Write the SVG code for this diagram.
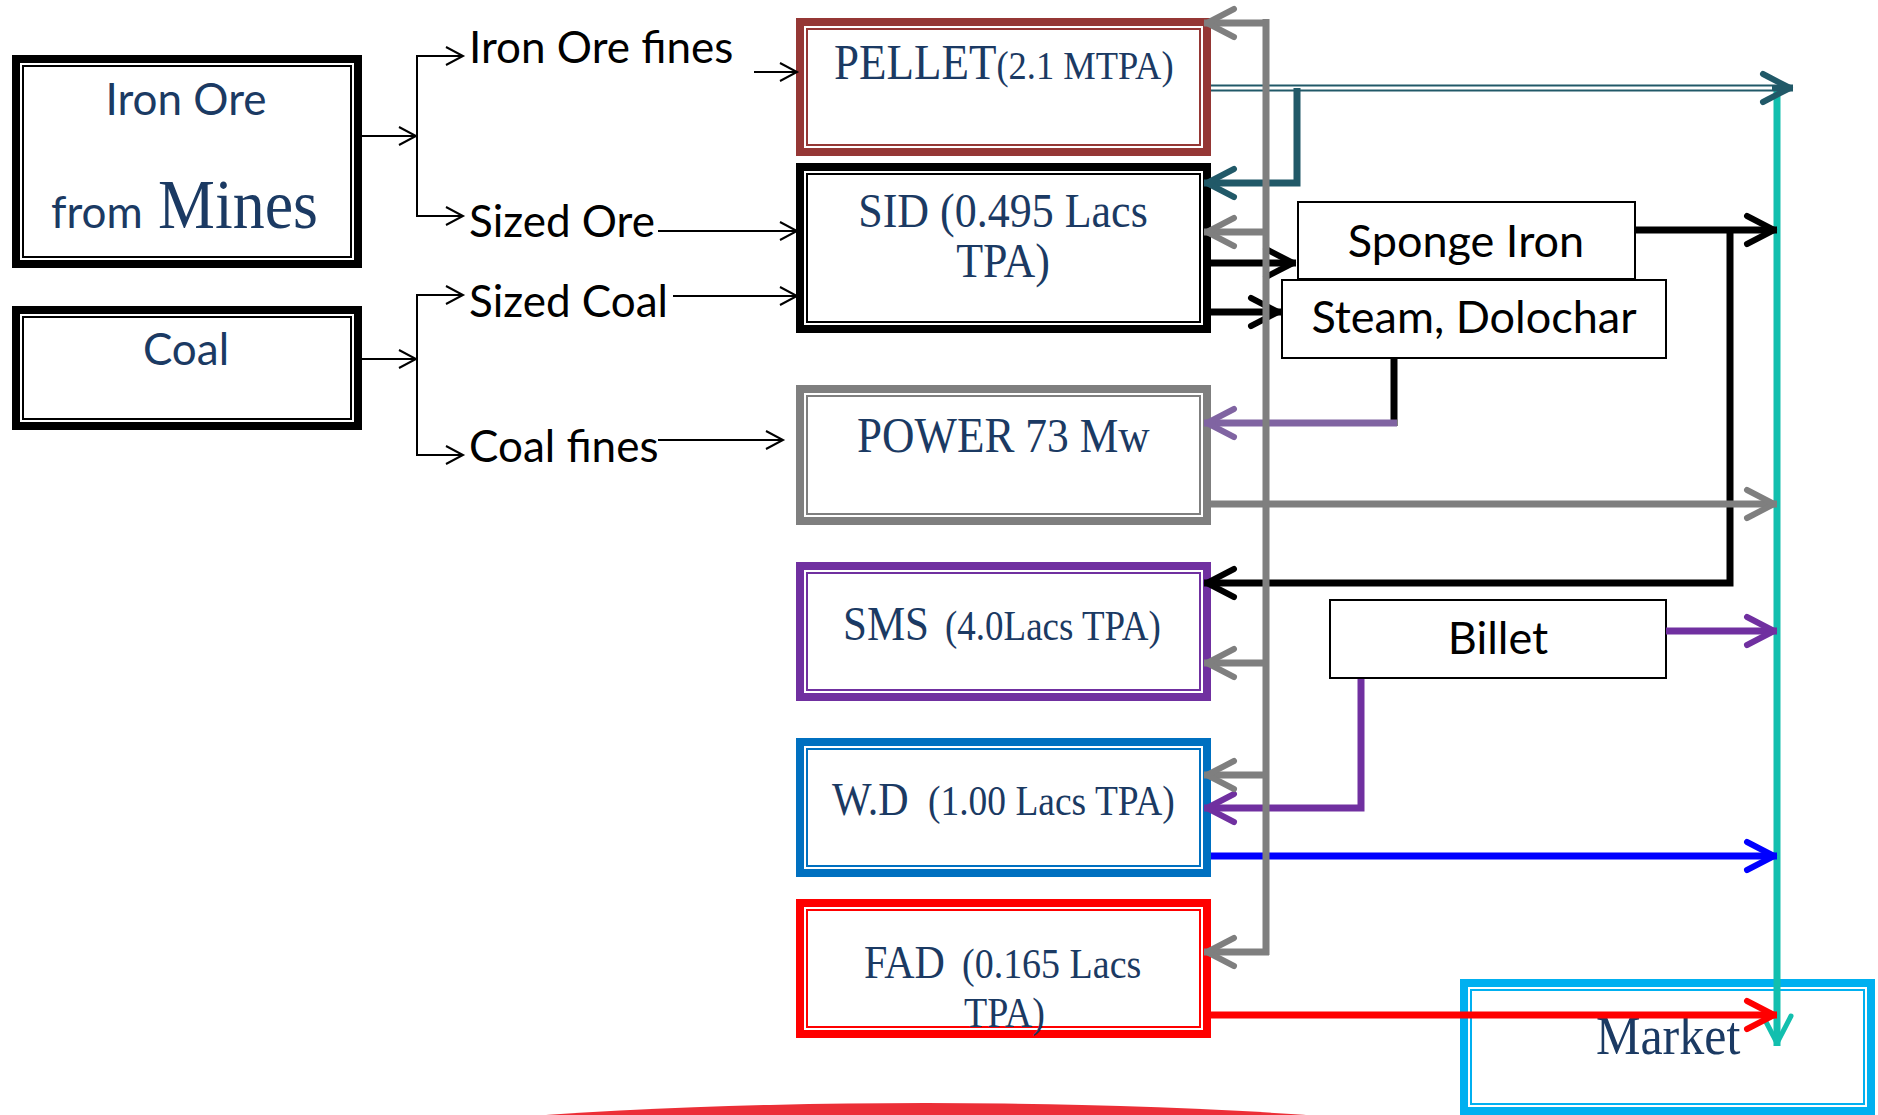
<svg xmlns="http://www.w3.org/2000/svg" width="1878" height="1115" viewBox="0 0 1878 1115">
<style>
.bg{fill:#fff}
.thick{fill:#fff;stroke-width:8}
.thin{fill:none;stroke-width:2}
.sbox{fill:#fff;stroke:#000;stroke-width:2}
.lbl{font-family:Lato,"Liberation Sans",sans-serif;font-size:44px;fill:#000}
.nv{font-family:Lato,"Liberation Sans",sans-serif;font-size:44px;fill:#1B3A63}
.sf{font-family:"Liberation Serif","DejaVu Serif",serif;fill:#1B3A63}
.blk{font-family:Lato,"Liberation Sans",sans-serif;font-size:45px;fill:#000}
.tl{stroke:#000;stroke-width:2;fill:none}
.w6{stroke-width:7;fill:none}
</style>
<defs>
<marker id="mThin" markerUnits="userSpaceOnUse" orient="auto" overflow="visible" markerWidth="1" markerHeight="1" refX="0" refY="0"><path d="M-17,-9 L0,0 L-17,9" fill="none" stroke="#000" stroke-width="2"/></marker>
<marker id="mGray" markerUnits="userSpaceOnUse" orient="auto" overflow="visible" markerWidth="1" markerHeight="1"><path d="M-30,-14 L-3,0 L-30,14" fill="none" stroke="#7F7F7F" stroke-width="6" stroke-linecap="round" stroke-linejoin="round"/></marker>
<marker id="mTeal" markerUnits="userSpaceOnUse" orient="auto" overflow="visible" markerWidth="1" markerHeight="1"><path d="M-30,-14 L-3,0 L-30,14" fill="none" stroke="#215968" stroke-width="6" stroke-linecap="round" stroke-linejoin="round"/></marker>
<marker id="mBlack" markerUnits="userSpaceOnUse" orient="auto" overflow="visible" markerWidth="1" markerHeight="1"><path d="M-30,-14 L-3,0 L-30,14" fill="none" stroke="#000" stroke-width="6" stroke-linecap="round" stroke-linejoin="round"/></marker>
<marker id="mLav" markerUnits="userSpaceOnUse" orient="auto" overflow="visible" markerWidth="1" markerHeight="1"><path d="M-30,-14 L-3,0 L-30,14" fill="none" stroke="#8064A2" stroke-width="6" stroke-linecap="round" stroke-linejoin="round"/></marker>
<marker id="mPur" markerUnits="userSpaceOnUse" orient="auto" overflow="visible" markerWidth="1" markerHeight="1"><path d="M-30,-14 L-3,0 L-30,14" fill="none" stroke="#7030A0" stroke-width="6" stroke-linecap="round" stroke-linejoin="round"/></marker>
<marker id="mBlue" markerUnits="userSpaceOnUse" orient="auto" overflow="visible" markerWidth="1" markerHeight="1"><path d="M-30,-14 L-3,0 L-30,14" fill="none" stroke="#0000FF" stroke-width="6" stroke-linecap="round" stroke-linejoin="round"/></marker>
<marker id="mRed" markerUnits="userSpaceOnUse" orient="auto" overflow="visible" markerWidth="1" markerHeight="1"><path d="M-30,-14 L-3,0 L-30,14" fill="none" stroke="#FF0000" stroke-width="6" stroke-linecap="round" stroke-linejoin="round"/></marker>
<marker id="mTurq" markerUnits="userSpaceOnUse" orient="auto" overflow="visible" markerWidth="1" markerHeight="1"><path d="M-30,-14 L-3,0 L-30,14" fill="none" stroke="#12BFAE" stroke-width="5" stroke-linecap="round" stroke-linejoin="round"/></marker>
</defs>
<rect class="bg" x="0" y="0" width="1878" height="1115"/>
<ellipse id="swoosh" cx="926" cy="1203" rx="800" ry="100" fill="#EC2F37"/>

<g id="iron-ore">
<rect class="thick" x="16" y="59" width="342" height="205" stroke="#000"/>
<rect class="thin" x="23" y="66" width="328" height="191" stroke="#000"/>
<text class="nv" x="186" y="115" text-anchor="middle">Iron Ore</text>
<text class="nv" x="51" y="228">from</text>
<text class="sf" x="158" y="228" font-size="64" transform="matrix(1,0,0,1.1,0,-22.8)">Mines</text>
</g>
<g id="coal">
<rect class="thick" x="16" y="310" width="342" height="116" stroke="#000"/>
<rect class="thin" x="23" y="317" width="328" height="102" stroke="#000"/>
<text class="nv" x="186" y="365" text-anchor="middle">Coal</text>
</g>

<g id="labels">
<text class="lbl" x="469" y="63">Iron Ore fines</text>
<text class="lbl" x="469" y="237">Sized Ore</text>
<text class="lbl" x="469" y="317">Sized Coal</text>
<text class="lbl" x="469" y="462">Coal fines</text>
</g>

<g id="pellet">
<rect class="thick" x="800" y="22" width="407" height="130" stroke="#953735"/>
<rect class="thin" x="807" y="29" width="393" height="116" stroke="#953735"/>
<text class="sf" x="834" y="79" font-size="45" transform="matrix(1,0,0,1.12,0,-9.48)">PELLET<tspan font-size="36.5">(2.1 MTPA)</tspan></text>
</g>
<g id="sid">
<rect class="thick" x="800" y="167" width="407" height="162" stroke="#000"/>
<rect class="thin" x="807" y="174" width="393" height="148" stroke="#000"/>
<text class="sf" x="1003" y="227" font-size="44" text-anchor="middle" transform="matrix(1,0,0,1.12,0,-27.24)">SID (0.495 Lacs</text>
<text class="sf" x="1003" y="277" font-size="44" text-anchor="middle" transform="matrix(1,0,0,1.12,0,-33.24)">TPA)</text>
</g>
<g id="power">
<rect class="thick" x="800" y="389" width="407" height="132" stroke="#7F7F7F"/>
<rect class="thin" x="807" y="396" width="393" height="118" stroke="#7F7F7F"/>
<text class="sf" x="857" y="452" font-size="45" transform="matrix(1,0,0,1.12,0,-54.24)">POWER<tspan font-size="43.5"> 73 Mw</tspan></text>
</g>
<g id="sms">
<rect class="thick" x="800" y="566" width="407" height="131" stroke="#7030A0"/>
<rect class="thin" x="807" y="573" width="393" height="117" stroke="#7030A0"/>
<text class="sf" x="843" y="640" font-size="43" transform="matrix(1,0,0,1.12,0,-76.8)">SMS</text>
<text class="sf" x="945" y="640" font-size="37" transform="matrix(1,0,0,1.12,0,-76.8)">(4.0Lacs TPA)</text>
</g>
<g id="wd">
<rect class="thick" x="800" y="742" width="407" height="131" stroke="#0070C0"/>
<rect class="thin" x="807" y="749" width="393" height="117" stroke="#0070C0"/>
<text class="sf" x="832" y="815" font-size="42" transform="matrix(1,0,0,1.12,0,-97.8)">W.D</text>
<text class="sf" x="928" y="815" font-size="37.5" transform="matrix(1,0,0,1.12,0,-97.8)">(1.00 Lacs TPA)</text>
</g>
<g id="fad">
<rect class="thick" x="800" y="903" width="407" height="131" stroke="#FF0000"/>
<rect class="thin" x="807" y="910" width="393" height="117" stroke="#FF0000"/>
<text class="sf" x="864" y="978" font-size="42" transform="matrix(1,0,0,1.12,0,-117.36)">FAD</text>
<text class="sf" x="962" y="978" font-size="38" transform="matrix(1,0,0,1.12,0,-117.36)">(0.165 Lacs</text>
<text class="sf" x="964" y="1027" font-size="38" transform="matrix(1,0,0,1.12,0,-123.24)">TPA)</text>
</g>
<g id="market">
<rect class="thick" x="1464" y="983" width="407" height="128" stroke="#00B0F0"/>
<rect class="thin" x="1471" y="990" width="393" height="114" stroke="#00B0F0"/>
<text class="sf" x="1596" y="1054" font-size="50" transform="matrix(1,0,0,1.1,0,-105.4)">Market</text>
</g>
<g id="sponge-iron">
<rect class="sbox" x="1298" y="202" width="337" height="77"/>
<text class="blk" x="1466" y="257" text-anchor="middle">Sponge Iron</text>
</g>
<g id="steam-dolochar">
<rect class="sbox" x="1282" y="280" width="384" height="78"/>
<text class="blk" x="1474" y="333" text-anchor="middle">Steam, Dolochar</text>
</g>
<g id="billet">
<rect class="sbox" x="1330" y="600" width="336" height="78"/>
<text class="blk" x="1498" y="654" text-anchor="middle">Billet</text>
</g>

<g id="connectors">
<path class="tl" d="M362,136 H416" marker-end="url(#mThin)"/>
<path class="tl" d="M417,55 V217"/>
<path class="tl" d="M416,56 H463" marker-end="url(#mThin)"/>
<path class="tl" d="M416,216 H463" marker-end="url(#mThin)"/>
<path class="tl" d="M362,359 H416" marker-end="url(#mThin)"/>
<path class="tl" d="M417,294 V456"/>
<path class="tl" d="M416,295 H463" marker-end="url(#mThin)"/>
<path class="tl" d="M416,455 H463" marker-end="url(#mThin)"/>
<path class="tl" d="M754,72 H797" marker-end="url(#mThin)"/>
<path class="tl" d="M658,231 H797" marker-end="url(#mThin)"/>
<path class="tl" d="M673,296 H797" marker-end="url(#mThin)"/>
<path class="tl" d="M658,440 H783" marker-end="url(#mThin)"/>

<path class="w6" d="M1777,89 V1046" stroke="#12BFAE" stroke-width="5" marker-end="url(#mTurq)"/>
<path class="w6" d="M1211,88 H1793" stroke="#215968" stroke-width="8" marker-end="url(#mTeal)"/>
<path d="M1211,88 H1772" stroke="#fff" stroke-width="3" fill="none"/>
<path class="w6" d="M1297,88 V183 H1204" stroke="#215968" marker-end="url(#mTeal)"/>
<path class="w6" d="M1211,263 H1296" stroke="#000" marker-end="url(#mBlack)"/>
<path class="w6" d="M1211,312 H1281" stroke="#000" marker-end="url(#mBlack)"/>
<path class="w6" d="M1635,230 H1777" stroke="#000" marker-end="url(#mBlack)"/>
<path class="w6" d="M1730,230 V583 H1204" stroke="#000" marker-end="url(#mBlack)"/>
<path class="w6" d="M1394,359 V426" stroke="#000"/>
<path class="w6" d="M1397,423 H1204" stroke="#8064A2" marker-end="url(#mLav)"/>
<path class="w6" d="M1211,504 H1777" stroke="#7F7F7F" marker-end="url(#mGray)"/>
<path class="w6" d="M1666,631 H1777" stroke="#7030A0" marker-end="url(#mPur)"/>
<path class="w6" d="M1361,679 V808 H1204" stroke="#7030A0" marker-end="url(#mPur)"/>
<path class="w6" d="M1211,856 H1777" stroke="#0000FF" marker-end="url(#mBlue)"/>
<path class="w6" d="M1211,1015 H1777" stroke="#FF0000" marker-end="url(#mRed)"/>

<path class="w6" d="M1266,19 V955" stroke="#7F7F7F"/>
<path class="w6" d="M1266,23 H1204" stroke="#7F7F7F" marker-end="url(#mGray)"/>
<path class="w6" d="M1266,232 H1204" stroke="#7F7F7F" marker-end="url(#mGray)"/>
<path class="w6" d="M1266,663 H1204" stroke="#7F7F7F" marker-end="url(#mGray)"/>
<path class="w6" d="M1266,775 H1204" stroke="#7F7F7F" marker-end="url(#mGray)"/>
<path class="w6" d="M1269,952 H1204" stroke="#7F7F7F" marker-end="url(#mGray)"/>
</g>
</svg>
